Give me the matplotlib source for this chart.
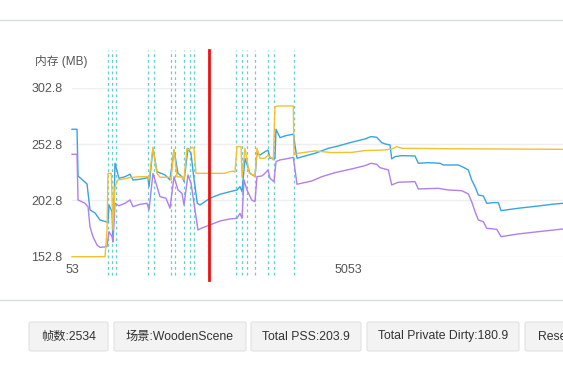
import matplotlib
matplotlib.use("Agg")
import matplotlib.pyplot as plt
from matplotlib.patches import FancyBboxPatch
from matplotlib.lines import Line2D

plt.rcParams['font.family'] = ['Liberation Sans', 'Noto Sans CJK SC', 'DejaVu Sans']

# ---------------- data ----------------
pss_x = [53, 144, 162, 325, 379, 470, 560, 705, 723, 778, 796, 832, 904, 1013, 1104, 1158, 1285, 1430, 1448,
         1520, 1593, 1738, 1828, 1901, 1973, 2045, 2082, 2154, 2209, 2250, 2323, 2372, 2553, 2734, 2915, 3042,
         3096, 3133, 3187, 3278, 3368, 3404, 3459, 3549, 3604, 3640, 3730, 3749, 3821, 3912, 4002, 4062, 4129,
         4455, 4697, 4878, 5120, 5361, 5470, 5573, 5664, 5723, 5814, 5845, 5904, 6026, 6267, 6327, 6508, 6720,
         6780, 7052, 7142, 7233, 7294, 7354, 7414, 7505, 7566, 7686, 7776, 7825, 8138, 8501, 8743, 8948]
pss_y = [265.9, 265.9, 224.5, 217.4, 194.3, 191.6, 185.4, 183.3, 198.7, 192.8, 166.0, 235.7, 222.4, 223.8, 226.0,
         220.9, 221.5, 223.0, 214.9, 249.0, 228.3, 225.4, 220.9, 247.5, 226.8, 223.8, 219.5, 249.0, 244.6, 226.8,
         200.2, 198.7, 204.7, 208.2, 210.5, 212.0, 215.0, 210.5, 240.0, 226.8, 224.0, 244.6, 243.1, 246.0, 247.5,
         240.2, 240.0, 265.9, 258.5, 260.0, 261.0, 261.5, 240.2, 244.6, 249.0, 251.1, 254.4, 257.3, 259.4, 258.8,
         254.0, 252.9, 252.0, 239.6, 241.6, 242.5, 242.2, 235.7, 236.3, 235.7, 234.2, 234.2, 232.2, 229.8, 220.9,
         215.0, 207.6, 206.7, 200.2, 200.8, 200.8, 193.7, 195.8, 197.8, 199.3, 200.2]

dirty_x = [53, 144, 162, 288, 343, 379, 433, 506, 560, 687, 723, 778, 796, 832, 904, 1013, 1104, 1158, 1285, 1412,
           1448, 1520, 1593, 1647, 1756, 1828, 1901, 1973, 2045, 2082, 2154, 2209, 2281, 2335, 2390, 2553, 2734,
           2915, 3042, 3096, 3133, 3169, 3223, 3309, 3368, 3404, 3495, 3549, 3604, 3640, 3712, 3749, 3821, 3930,
           4062, 4129, 4396, 4577, 4818, 5120, 5361, 5470, 5573, 5633, 5784, 5845, 5964, 6267, 6327, 6689, 6870,
           7113, 7233, 7294, 7354, 7414, 7505, 7566, 7748, 7825, 8138, 8501, 8948]
dirty_y = [243.7, 243.7, 203.2, 200.2, 197.2, 179.4, 170.6, 163.2, 161.1, 161.7, 175.0, 170.6, 166.1, 200.2, 198.0,
           200.2, 203.2, 197.2, 199.3, 200.2, 194.3, 226.8, 215.0, 206.1, 204.7, 195.8, 223.8, 212.0, 209.1, 198.7,
           225.4, 218.0, 194.3, 176.5, 178.0, 181.0, 184.5, 186.3, 186.9, 191.3, 186.9, 220.9, 212.0, 203.1, 201.6,
           223.8, 224.5, 226.8, 229.8, 222.4, 219.4, 237.2, 238.7, 239.6, 241.0, 217.1, 220.0, 223.8, 227.4, 230.7,
           233.6, 235.7, 234.8, 231.8, 229.8, 216.5, 218.9, 219.4, 212.9, 213.5, 212.0, 211.4, 208.5, 201.6, 192.8,
           185.4, 183.9, 178.0, 177.1, 170.6, 173.0, 175.0, 177.4]

rsv_x = [53, 651, 687, 705, 765, 796, 832, 886, 1013, 1104, 1285, 1430, 1448, 1520, 1593, 1647, 1828, 1846, 1901,
         1955, 2045, 2082, 2136, 2172, 2227, 2263, 2299, 2825, 2915, 2970, 3006, 3042, 3115, 3133, 3187, 3265,
         3338, 3368, 3404, 3459, 3549, 3604, 3700, 3730, 3790, 4062, 4075, 4153, 4455, 4758, 5120, 5361, 5723,
         5845, 5935, 6026, 7000, 8948]
rsv_y = [152.8, 152.8, 176.5, 226.8, 226.8, 176.3, 215.0, 220.9, 222.0, 223.0, 223.8, 223.8, 220.9, 250.0, 226.8,
         223.3, 223.3, 220.9, 248.1, 223.8, 223.5, 220.9, 249.0, 247.5, 250.0, 249.0, 226.8, 226.8, 228.3, 228.7,
         227.9, 250.5, 250.5, 223.8, 249.0, 226.8, 225.4, 223.8, 249.0, 240.2, 240.2, 243.1, 238.7, 286.0, 286.6,
         286.6, 243.1, 244.6, 246.7, 245.2, 245.4, 247.0, 247.5, 248.4, 250.5, 249.0, 248.6, 248.1]

event_frames = [710, 783, 856, 1435, 1544, 1841, 1924, 2087, 2185, 2268, 3029, 3127, 3218, 3368, 3598, 3718, 4069]
current_frame = 2534

y_ticks = [152.8, 202.8, 252.8, 302.8]
x_ticks = [53, 5053]
x_range = [53, 8948]

info_labels = ["帧数:2534", "场景:WoodenScene", "Total PSS:203.9", "Total Private Dirty:180.9", "Reserved:248.1"]

# ---------------- figure ----------------
W, H = 563, 365
fig = plt.figure(figsize=(W / 100, H / 100), dpi=100)
fig.patch.set_facecolor('white')

def fx(px):
    return px / W

def fy(py):
    return 1 - py / H

ax_left, ax_right, ax_top, ax_bottom = 72, 563, 87.7, 256.7
ax = fig.add_axes([fx(ax_left), fy(ax_bottom), fx(ax_right - ax_left), (ax_bottom - ax_top) / H])
ax.set_xlim(*x_range)
ax.set_ylim(y_ticks[0], y_ticks[-1])
for s in ax.spines.values():
    s.set_visible(False)
ax.set_yticks(y_ticks)
ax.set_yticklabels([f"{v:.1f}" for v in y_ticks])
ax.set_xticks(x_ticks)
ax.set_xticklabels([str(v) for v in x_ticks])
ax.tick_params(axis='both', length=0, labelsize=9, colors='#555555')
ax.tick_params(axis='y', pad=7)
ax.tick_params(axis='x', pad=5)
ax.grid(axis='y', color='#eeeeee', linewidth=1)
ax.set_axisbelow(True)

ax.plot(pss_x, pss_y, color='#3aa3e3', linewidth=1.0, clip_on=False, zorder=3)
ax.plot(dirty_x, dirty_y, color='#b07ff0', linewidth=1.0, clip_on=False, zorder=3)
ax.plot(rsv_x, rsv_y, color='#f2c12e', linewidth=1.0, clip_on=False, zorder=4)

trans = ax.get_xaxis_transform()
for f in event_frames:
    ax.add_line(Line2D([f, f], [-0.108, 1.223], transform=trans, color='#62cfd0', linewidth=0.9,
                       linestyle=(0, (2.2, 2.4)), clip_on=False, zorder=2))
ax.add_line(Line2D([current_frame, current_frame], [-0.138, 1.223], transform=trans, color='#ee1111',
                   linewidth=2.0, clip_on=False, zorder=5))

fig.text(fx(35), fy(62), "内存 (MB)", fontsize=8.5, color='#555555', va='center', ha='left')

# separators
fig.add_artist(Line2D([0, 1], [fy(19.5), fy(19.5)], transform=fig.transFigure, color='#d3dde3', linewidth=1))
fig.add_artist(Line2D([0, 1], [fy(300), fy(300)], transform=fig.transFigure, color='#d3dde3', linewidth=1))

# info boxes
box_lefts = [29, 114, 251, 367, 525]
box_rights = [108, 246, 361, 519, 680]
btop, bbot = 322, 351
for lab, l, r in zip(info_labels, box_lefts, box_rights):
    p = FancyBboxPatch((fx(l), fy(bbot)), fx(r - l), (bbot - btop) / H,
                       boxstyle="round,pad=0,rounding_size=0.004", transform=fig.transFigure,
                       facecolor='#f3f3f3', edgecolor='#e2e2e2', linewidth=0.8)
    fig.add_artist(p)
    if r > W:
        fig.text(fx(l + 13), fy((btop + bbot) / 2), lab, fontsize=8.8, color='#333333',
                 ha='left', va='center')
    else:
        fig.text(fx((l + r) / 2), fy((btop + bbot) / 2), lab, fontsize=8.8, color='#333333',
                 ha='center', va='center')

fig.savefig("out.png", dpi=100)
